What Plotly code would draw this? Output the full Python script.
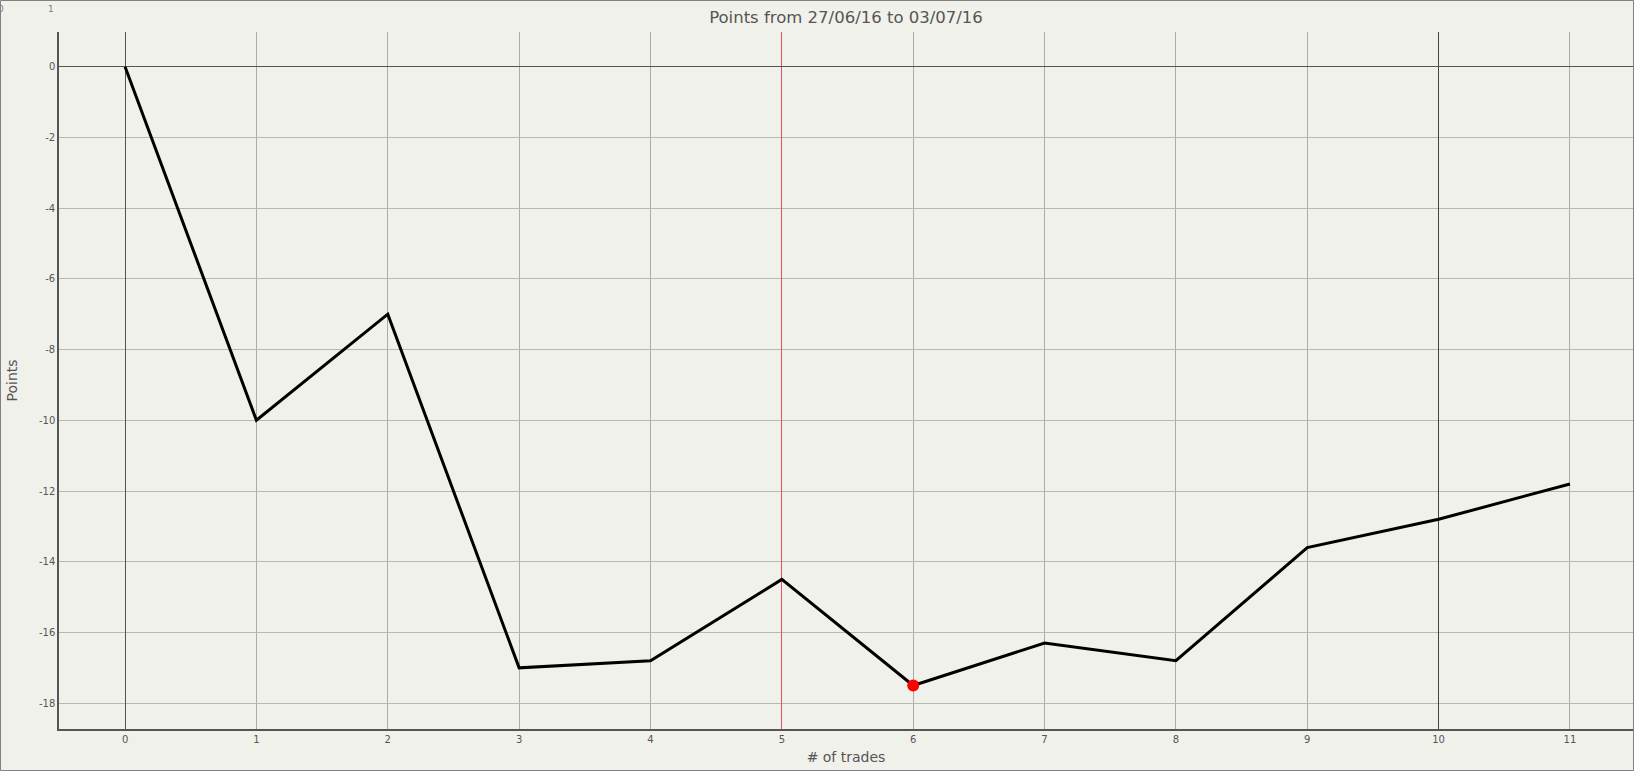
import plotly.graph_objects as go

trades = [0, 1, 2, 3, 4, 5, 6, 7, 8, 9, 10, 11]
points = [0, -10, -7, -17, -16.8, -14.5, -17.5, -16.3, -16.8, -13.6, -12.8, -11.8]
min_idx = 6
title_text = "Points from 27/06/16 to 03/07/16"
x_title = "# of trades"
y_title = "Points"
x_ticks = list(range(0, 12))
y_ticks = list(range(-18, 1, 2))
dark_x = [10]
red_x = [5]

W, H = 1634, 771
ML, MR, MT, MB = 59, 1, 32, 42
PW = W - ML - MR
PH = H - MT - MB
XR = [-0.503, 11.48]

bg = "#f1f1eb"
fig = go.Figure()
fig.add_trace(go.Scatter(x=trades, y=points, mode="lines",
                         line=dict(color="black", width=3), hoverinfo="skip",
                         showlegend=False))
fig.add_trace(go.Scatter(x=[trades[min_idx]], y=[points[min_idx]], mode="markers",
                         marker=dict(color="#ff0000", size=12), showlegend=False))
# invisible helpers so the overlay axes are drawn
fig.add_trace(go.Scatter(x=dark_x, y=[None], xaxis="x2", mode="markers",
                         showlegend=False, hoverinfo="skip"))
fig.add_trace(go.Scatter(x=red_x, y=[None], xaxis="x3", mode="markers",
                         showlegend=False, hoverinfo="skip"))

shapes = [dict(type="rect", xref="paper", yref="paper",
               x0=-(ML - 0.5) / PW, x1=1 + (MR - 0.5) / PW,
               y0=-(MB - 0.5) / PH, y1=1 + (MT - 0.5) / PH,
               line=dict(color="#808080", width=1), layer="above")]

annotations = [
    dict(text="0", xref="paper", yref="paper", x=-(ML - 1) / PW, y=1 + (MT - 9) / PH,
         showarrow=False, font=dict(size=9, color="#7a7a8a", family="DejaVu Sans"),
         xanchor="center", yanchor="middle"),
    dict(text="1", xref="paper", yref="paper", x=-(ML - 51) / PW, y=1 + (MT - 9) / PH,
         showarrow=False, font=dict(size=9, color="#8a7a6a", family="DejaVu Sans"),
         xanchor="center", yanchor="middle"),
]

fig.update_layout(
    width=W, height=H,
    margin=dict(l=ML, r=MR, t=MT, b=MB, pad=0),
    paper_bgcolor=bg, plot_bgcolor=bg,
    font=dict(family="DejaVu Sans", color="#555555"),
    title=dict(text=title_text, x=(ML + PW / 2) / W, xanchor="center",
               y=1 - 17 / H, yanchor="middle",
               font=dict(size=16.5, color="#555555", family="DejaVu Sans")),
    xaxis=dict(range=XR, tickvals=x_ticks, ticktext=[str(v) for v in x_ticks],
               showgrid=True, gridcolor="#ababab", gridwidth=1,
               zeroline=True, zerolinecolor="#555555", zerolinewidth=1,
               showline=True, linecolor="#555555", linewidth=1.5,
               ticks="", tickfont=dict(size=10, color="#555555"),
               title=dict(text=x_title, font=dict(size=14, color="#555555"), standoff=8),
               fixedrange=True),
    xaxis2=dict(range=XR, overlaying="x", tickvals=dark_x, showticklabels=False,
                showgrid=True, gridcolor="#444444", gridwidth=1, zeroline=False,
                showline=False, ticks="", fixedrange=True),
    xaxis3=dict(range=XR, overlaying="x", tickvals=red_x, showticklabels=False,
                showgrid=True, gridcolor="#e8506a", gridwidth=1, zeroline=False,
                showline=False, ticks="", fixedrange=True),
    yaxis=dict(range=[-18.73, 0.98], tickvals=y_ticks, ticktext=[str(v) for v in y_ticks],
               showgrid=True, gridcolor="#b8b8b2", gridwidth=1,
               zeroline=True, zerolinecolor="#555555", zerolinewidth=1,
               showline=True, linecolor="#555555", linewidth=1.5,
               ticks="", tickfont=dict(size=10, color="#555555"),
               title=dict(text=y_title, font=dict(size=14, color="#555555"), standoff=18),
               fixedrange=True),
    shapes=shapes,
    annotations=annotations,
    showlegend=False,
)

fig.write_html("out.html", config={"displayModeBar": False},
               post_script="document.body.style.margin='0';document.body.style.overflow='hidden';")
